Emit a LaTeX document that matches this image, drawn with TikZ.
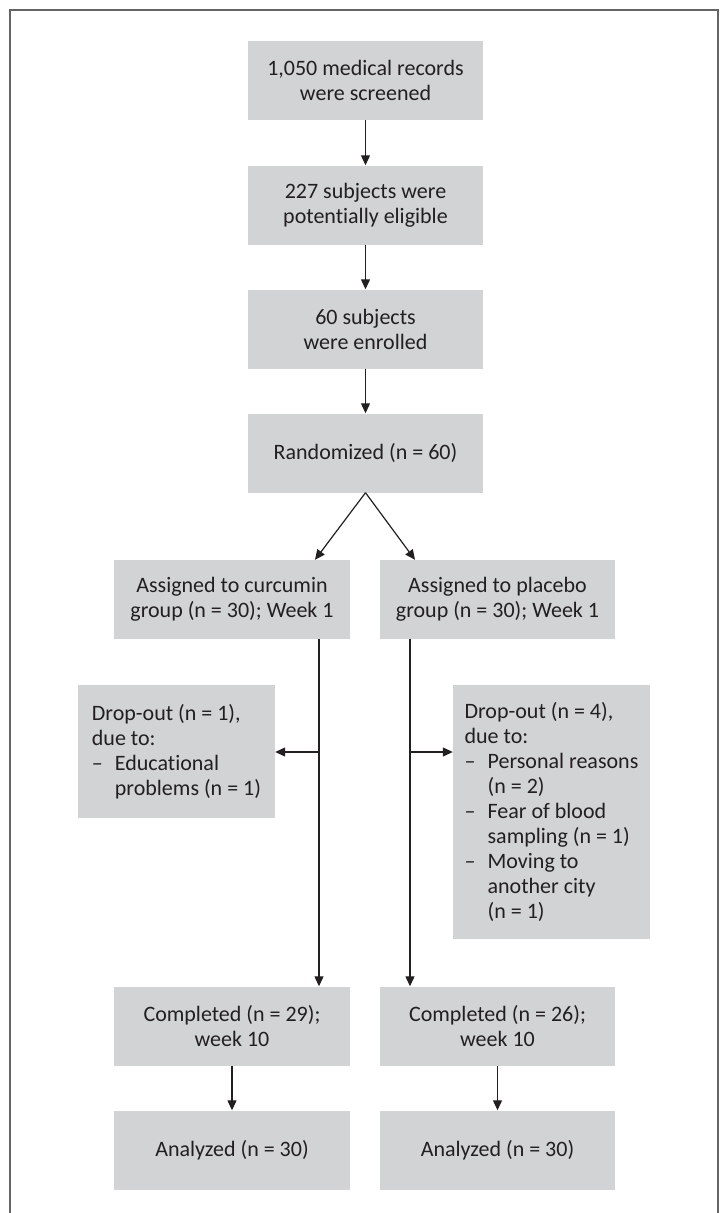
\documentclass[tikz,border=0pt]{standalone}
\usepackage{fontspec}
\setmainfont{Carlito}[Ligatures=NoCommon]
\usetikzlibrary{arrows.meta,calc}
\definecolor{boxgray}{RGB}{209,211,212}
\definecolor{framegray}{RGB}{100,100,104}
\definecolor{ink}{RGB}{35,31,32}
\newcommand{\dropdash}{\makebox[23pt][l]{–}}
\newcommand{\dropind}{\hspace*{23pt}}
\begin{document}
\begin{tikzpicture}[x=1pt,y=-1pt,
  flowbox/.style={fill=boxgray,draw=none,minimum width=235pt,minimum height=79pt,inner sep=0pt,align=center,text=ink,font=\fontsize{22}{25}\selectfont},
  dropbox/.style={fill=boxgray,draw=none,minimum width=197pt,inner sep=0pt,align=left,text=ink,font=\fontsize{22}{25}\selectfont},
  arr/.style={draw=ink,line width=1.2pt,-{Triangle[length=10pt,width=9pt]}},
  frame/.style={draw=framegray,line width=1.3pt}]
\useasboundingbox (0,0) rectangle (720,1213);
\draw[frame] (10,1213) -- (10,10) -- (718,10) -- (718,1213);

\node[flowbox] (b1) at (365.5,80) {1,050 medical records\\were screened};
\node[flowbox] (b2) at (365.5,205) {227 subjects were\\potentially eligible};
\node[flowbox] (b3) at (365.5,329) {60 subjects\\were enrolled};
\node[flowbox] (rand) at (365.5,453) {Randomized (n = 60)};
\node[flowbox,minimum width=236pt] (cur) at (232,599.5) {Assigned to curcumin\\group (n = 30); Week 1};
\node[flowbox] (pla) at (497.5,599.5) {Assigned to placebo\\group (n = 30); Week 1};
\node[dropbox,minimum height=133pt] (dl) at (176.5,751.5) {Drop-out (n = 1),\\due to:\\\dropdash Educational\\\dropind problems (n = 1)};
\node[dropbox,minimum height=254pt] (dr) at (551.5,812) {Drop-out (n = 4),\\due to:\\\dropdash Personal reasons\\\dropind (n = 2)\\\dropdash Fear of blood\\\dropind sampling (n = 1)\\\dropdash Moving to\\\dropind another city\\\dropind (n = 1)};
\node[flowbox,minimum width=236pt] (cl) at (232,1026) {Completed (n = 29);\\week 10};
\node[flowbox] (cr) at (497.5,1026) {Completed (n = 26);\\week 10};
\node[flowbox,minimum width=236pt] (al) at (232,1150) {Analyzed (n = 30)};
\node[flowbox] (ar) at (497.5,1150) {Analyzed (n = 30)};

\draw[arr] (b1) -- (b2);
\draw[arr] (b2) -- (b3);
\draw[arr] (b3) -- (rand);
\draw[arr] (rand.south) -- ([xshift=83pt]cur.north);
\draw[arr] (rand.south) -- ([xshift=-82.5pt]pla.north);
\draw[arr] ([xshift=87pt]cur.south) -- ([xshift=87pt]cl.north);
\draw[arr] ([xshift=-87.5pt]pla.south) -- ([xshift=-87.5pt]cr.north);
\coordinate (jl) at (319,752);
\coordinate (jr) at (410,752);
\draw[arr] (jl) -- (jl -| dl.east);
\draw[arr] (jr) -- (jr -| dr.west);
\draw[arr] (cl) -- (al);
\draw[arr] (cr) -- (ar);
\end{tikzpicture}
\end{document}
